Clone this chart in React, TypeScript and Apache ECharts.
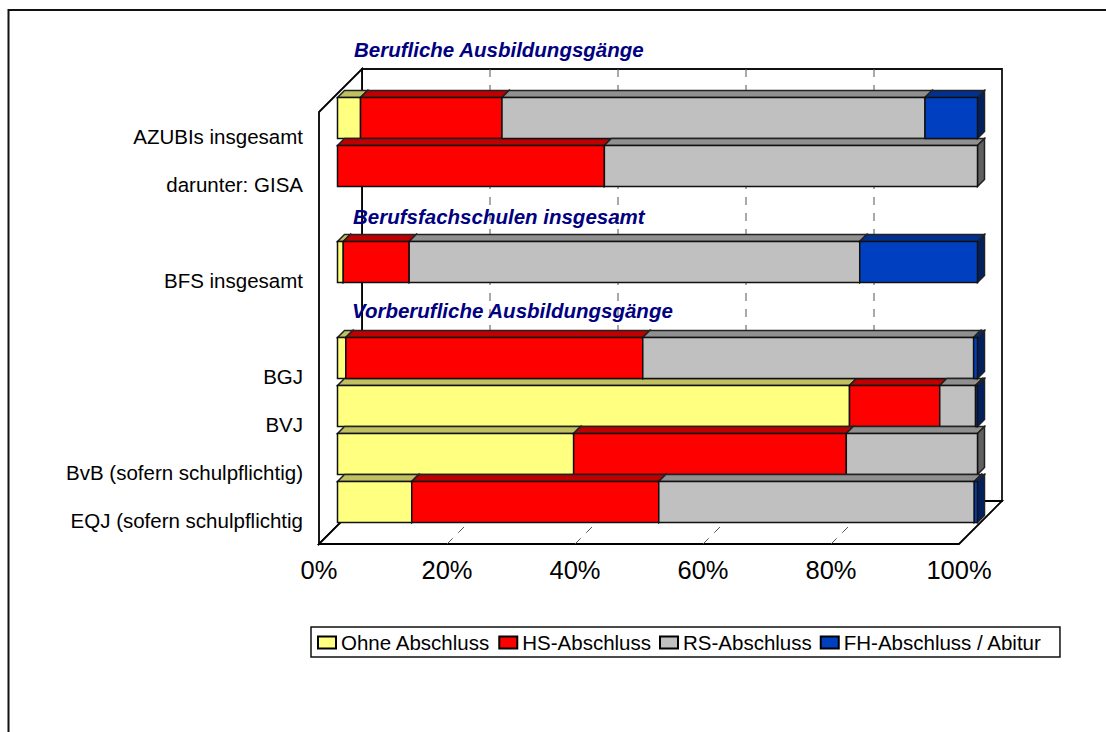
import React, { useEffect, useRef } from "react";
import * as echarts from "echarts";

const categories = [
  "AZUBIs insgesamt",
  "darunter: GISA",
  "",
  "BFS insgesamt",
  "",
  "BGJ",
  "BVJ",
  "BvB (sofern schulpflichtig)",
  "EQJ (sofern schulpflichtig",
];
const ohne = [3.6, 0, 0, 0.9, 0, 1.3, 80.0, 36.9, 11.6];
const hs = [22.1, 41.7, 0, 10.3, 0, 46.4, 14.1, 42.6, 38.6];
const rs = [66.1, 58.3, 0, 70.4, 0, 51.7, 5.6, 20.5, 49.3];
const fh = [8.2, 0, 0, 18.4, 0, 0.6, 0.3, 0, 0.5];
const xTicks = [0, 20, 40, 60, 80, 100];
const headings = ["Berufliche Ausbildungsgänge", "Berufsfachschulen insgesamt", "Vorberufliche Ausbildungsgänge"];

const seriesDefs = [
  { name: "Ohne Abschluss", values: ohne, front: "#FFFF80", top: "#C0C060", side: "#80803F" },
  { name: "HS-Abschluss", values: hs, front: "#FF0000", top: "#BF0000", side: "#800000" },
  { name: "RS-Abschluss", values: rs, front: "#C0C0C0", top: "#909090", side: "#606060" },
  { name: "FH-Abschluss / Abitur", values: fh, front: "#0040C0", top: "#003090", side: "#002060" },
];

// 3D look of the plot box
const WALL_DEPTH = 43;
const BAR_SHIFT = 18.5;
const BAR_DEPTH = 7;
const BAR_RATIO = 41 / 48;
const FONT = "'Liberation Sans', Arial, sans-serif";

function poly(points: number[][], fill: string, stroke = "#000", lineWidth = 1.5) {
  return {
    type: "polygon",
    shape: { points },
    style: { fill, stroke, lineWidth, lineJoin: "miter" },
    silent: true,
  };
}

function renderWalls(params: any, api: any) {
  const cs = params.coordSys;
  const L = cs.x, T = cs.y, W = cs.width, H = cs.height, D = WALL_DEPTH;
  const B = T + H;
  const children: any[] = [
    poly([[L + D, T - D], [L + W + D, T - D], [L + W + D, B - D], [L + D, B - D]], "#fff", "#111", 1.8),
    poly([[L, T], [L + D, T - D], [L + D, B - D], [L, B]], "#fff", "#000", 1.8),
    poly([[L, B], [L + W, B], [L + W + D, B - D], [L + D, B - D]], "#fff", "#000", 1.8),
  ];
  xTicks.slice(1, -1).forEach((t) => {
    const x = api.coord([t, 0])[0];
    const dashStyle = { stroke: "#555", lineWidth: 1, lineDash: [8, 8] };
    children.push({ type: "line", shape: { x1: x + D, y1: T - D, x2: x + D, y2: B - D }, style: dashStyle, silent: true });
    children.push({ type: "line", shape: { x1: x, y1: B, x2: x + D, y2: B - D }, style: dashStyle, silent: true });
  });
  return { type: "group", children };
}

function makeRenderBar(def: (typeof seriesDefs)[number]) {
  return (_params: any, api: any) => {
    const start = api.value(0), end = api.value(1), row = api.value(2);
    if (end <= start) return null;
    const p0 = api.coord([start, row]);
    const p1 = api.coord([end, row]);
    const h = api.size([0, 1])[1] * BAR_RATIO;
    const x0 = p0[0] + BAR_SHIFT, x1 = p1[0] + BAR_SHIFT;
    const y0 = p0[1] - BAR_SHIFT - h / 2 + 0.5, y1 = y0 + h;
    const d = BAR_DEPTH;
    return {
      type: "group",
      children: [
        poly([[x0, y0], [x1, y0], [x1 + d, y0 - d], [x0 + d, y0 - d]], def.top, "#222"),
        poly([[x1, y0], [x1 + d, y0 - d], [x1 + d, y1 - d], [x1, y1]], def.side, "#222"),
        poly([[x0, y0], [x1, y0], [x1, y1], [x0, y1]], def.front, "#111"),
      ],
    };
  };
}

function buildOption() {
  const running = categories.map(() => 0);
  const barSeries = seriesDefs.map((def) => {
    const data = def.values.map((v, i) => {
      const start = running[i];
      running[i] = start + v;
      return [start, running[i], i];
    });
    return {
      type: "custom",
      name: def.name,
      coordinateSystem: "cartesian2d",
      renderItem: makeRenderBar(def),
      encode: { x: [0, 1], y: 2 },
      data,
      z: 5,
      itemStyle: { color: def.front, borderColor: "#000", borderWidth: 1.2 },
      silent: true,
    };
  });
  return {
    animation: false,
    backgroundColor: "#fff",
    textStyle: { fontFamily: FONT },
    grid: { left: 319, top: 112, width: 640, height: 432, containLabel: false },
    xAxis: {
      type: "value",
      min: 0,
      max: 100,
      interval: 20,
      axisLine: { show: false },
      axisTick: { show: false },
      splitLine: { show: false },
      axisLabel: {
        formatter: "{value}%",
        fontFamily: FONT,
        fontSize: 25.5,
        color: "#000",
        margin: 13,
        showMaxLabel: true,
        showMinLabel: true,
      },
    },
    yAxis: {
      type: "category",
      inverse: true,
      data: categories,
      axisLine: { show: false },
      axisTick: { show: false },
      splitLine: { show: false },
      axisLabel: { interval: 0, fontFamily: FONT, fontSize: 20.5, color: "#000", margin: 16, padding: [0, 0, 2, 0] },
    },
    legend: {
      left: 311,
      top: 627,
      orient: "horizontal",
      padding: [5, 18, 4, 6],
      borderColor: "#111",
      borderWidth: 1.5,
      backgroundColor: "#fff",
      icon: "rect",
      itemWidth: 18,
      itemHeight: 12,
      itemGap: 8,
      selectedMode: false,
      textStyle: { fontFamily: FONT, fontSize: 20.5, color: "#000" },
      data: seriesDefs.map((d) => d.name),
    },
    graphic: [
      { type: "polyline", shape: { points: [[8.5, 740], [8.5, 10], [1110, 10]] }, style: { stroke: "#111", lineWidth: 2, fill: "none" }, silent: true, z: 0 },
      { type: "text", x: 354, y: 49, z: 20, style: { text: headings[0], font: `italic bold 20.5px ${FONT}`, fill: "#000080", verticalAlign: "middle" } },
      { type: "text", x: 353, y: 216, z: 20, style: { text: headings[1], font: `italic bold 20.5px ${FONT}`, fill: "#000080", verticalAlign: "middle" } },
      { type: "text", x: 352, y: 310, z: 20, style: { text: headings[2], font: `italic bold 20.5px ${FONT}`, fill: "#000080", verticalAlign: "middle" } },
    ],
    series: [
      {
        type: "custom",
        name: "walls",
        coordinateSystem: "cartesian2d",
        renderItem: renderWalls,
        data: [[0, 0]],
        z: 1,
        silent: true,
      },
      ...barSeries,
    ],
  };
}

export default function App() {
  const ref = useRef<HTMLDivElement>(null);
  useEffect(() => {
    document.body.style.margin = "0";
    const chart = echarts.init(ref.current!, undefined, { renderer: "svg" });
    chart.setOption(buildOption() as any);
    return () => chart.dispose();
  }, []);
  return <div ref={ref} style={{ width: 1106, height: 732 }} />;
}
